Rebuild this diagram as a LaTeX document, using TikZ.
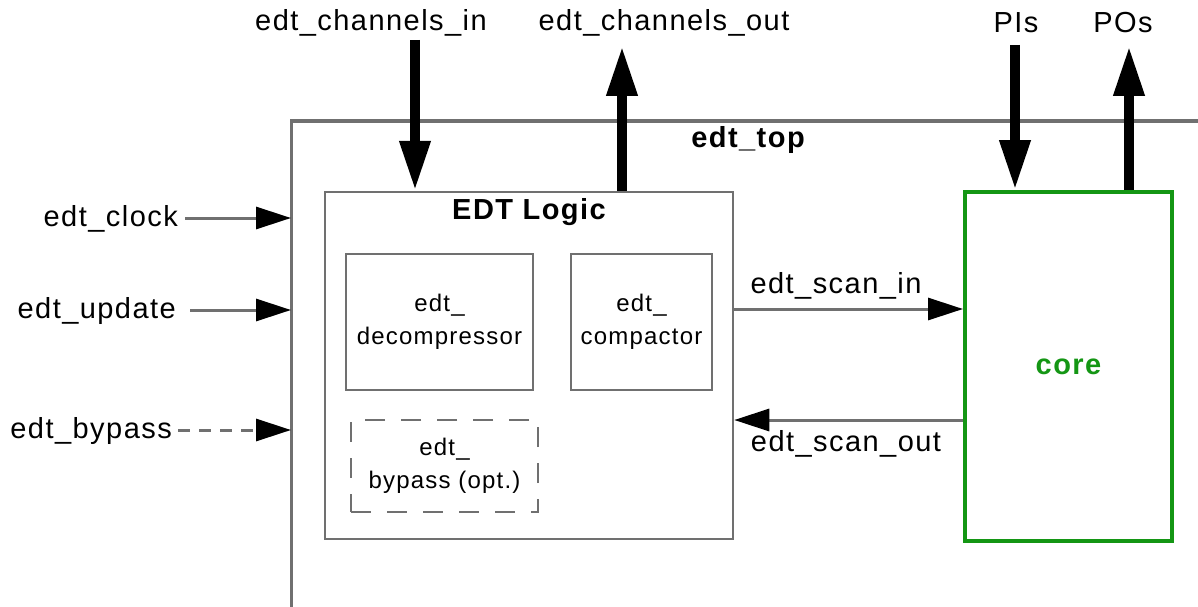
\documentclass[tikz,border=0pt]{standalone}
\usepackage{fontspec}
\setmainfont{Liberation Sans}[LetterSpace=5]
\usetikzlibrary{arrows.meta}
\definecolor{linegray}{RGB}{112,112,112}
\definecolor{coregreen}{RGB}{20,150,20}
\tikzset{
  lbl/.style={font=\fontsize{29}{32}\selectfont, inner sep=0pt},
  boldlbl/.style={font=\fontsize{29}{32}\selectfont\bfseries, inner sep=0pt},
  blockbox/.style={draw=linegray, line width=2.5pt, rectangle, inner sep=0pt,
     font=\fontsize{24}{33}\selectfont, align=center},
  optbox/.style={blockbox, dash pattern=on 20pt off 16pt},
  corebox/.style={draw=coregreen, line width=4pt, rectangle, inner sep=0pt,
     font=\fontsize{29}{32}\selectfont\bfseries, text=coregreen},
  thinarrow/.style={draw=linegray, line width=3pt,
     -{Triangle[length=35pt,width=22pt,color=black]}},
  thickarrow/.style={draw=black, line width=10pt,
     -{Triangle[length=50pt,width=29pt]}},
  framedge/.style={draw=linegray, line width=3pt},
}
\begin{document}
\begin{tikzpicture}[x=1pt,y=-1pt]
\useasboundingbox (0,0) rectangle (1198,607);
\fill[white] (0,0) rectangle (1198,607);

% edt_top frame (only left and top edges visible)
\coordinate (topBL) at (291,607);
\coordinate (topTL) at (291,121);
\coordinate (topTR) at (1198,121);
\draw[framedge] (topBL) -- (topTL) -- (topTR);
\node[boldlbl] (toplbl) at (748,140) {edt\_top};

% EDT logic block
\node[blockbox, minimum width=408pt, minimum height=347pt] (logic) at (529,365.5) {};
\node[boldlbl] (logiclbl) at (529,212) {EDT Logic};
\node[blockbox, minimum width=187pt, minimum height=136pt] (decomp) at (439.5,322) {edt\_\\decompressor};
\node[blockbox, minimum width=141pt, minimum height=136pt] (compact) at (641.5,322) {edt\_\\compactor};
\node[optbox, minimum width=187pt, minimum height=92pt] (bypass) at (444.5,466) {edt\_\\bypass (opt.)};

% core
\node[corebox, minimum width=207pt, minimum height=349pt] (core) at (1068.5,366.5) {core};

% top labels and thick arrows
\node[lbl] (chin) at (371,23) {edt\_channels\_in};
\node[lbl] (chout) at (664,23) {edt\_channels\_out};
\node[lbl] (pis) at (1016,23) {PIs};
\node[lbl] (pos) at (1123,23) {POs};
\coordinate (chinS) at (415,40);
\coordinate (choutE) at (622,46);
\coordinate (pisS) at (1015,45);
\coordinate (posE) at (1129,46);
\draw[thickarrow] (chinS) -- (chinS |- logic.north);
\draw[thickarrow] (choutE |- logic.north) -- (choutE);
\draw[thickarrow] (pisS) -- (pisS |- core.north);
\draw[thickarrow] (posE |- core.north) -- (posE);

% left inputs
\node[lbl, anchor=east] (clk) at (178,219) {edt\_clock};
\node[lbl, anchor=east] (upd) at (176,311) {edt\_update};
\node[lbl, anchor=east] (byp) at (172,431) {edt\_bypass};
\coordinate (clkS) at (185,218);
\coordinate (updS) at (190,310);
\coordinate (bypS) at (178,430);
\draw[thinarrow] (clkS) -- (clkS -| topTL);
\draw[thinarrow] (updS) -- (updS -| topTL);
\draw[thinarrow, dash pattern=on 12pt off 9pt] (bypS) -- (bypS -| topTL);

% scan connections
\coordinate (scinY) at (0,309);
\coordinate (scoutY) at (0,420);
\draw[thinarrow] (scinY -| logic.east) -- (scinY -| core.west);
\draw[thinarrow] (scoutY -| core.west) -- (scoutY -| logic.east);
\node[lbl] (scinlbl) at (836,286) {edt\_scan\_in};
\node[lbl] (scoutlbl) at (846,444) {edt\_scan\_out};
\end{tikzpicture}
\end{document}
